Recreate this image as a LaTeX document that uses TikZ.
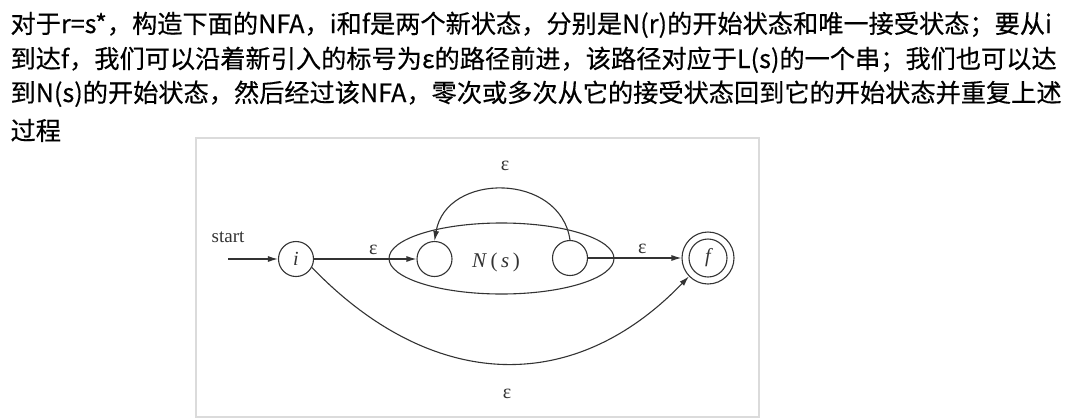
\documentclass[tikz,border=0pt]{standalone}
\usepackage{fontspec}
\setmainfont{Liberation Serif}
\newfontfamily\cjkfont[FakeBold=0.4]{Noto Sans CJK SC}
\usetikzlibrary{arrows.meta,positioning,shapes.geometric}
\tikzset{
  para/.style={anchor=base west,inner sep=0pt,font=\cjkfont\fontsize{25.2}{25.2}\selectfont},
  state/.style={circle,draw,minimum size=35pt,inner sep=0pt,font=\itshape\fontsize{20}{20}\selectfont},
  eps/.style={inner sep=1pt,font=\fontsize{20}{20}\selectfont},
}
\begin{document}
\begin{tikzpicture}[x=1pt,y=-1pt,line width=1.1pt]
      \useasboundingbox (0,0) rectangle (1089,418);
      \node[para] (l1) at (10,33) {对于r=s*，构造下面的NFA，i和f是两个新状态，分别是N(r)的开始状态和唯一接受状态；要从i};
      \node[para] (l2) at (10,68) {到达f，我们可以沿着新引入的标号为ε的路径前进，该路径对应于L(s)的一个串；我们也可以达};
      \node[para] (l3) at (10,102) {到N(s)的开始状态，然后经过该NFA，零次或多次从它的接受状态回到它的开始状态并重复上述};
      \node[para] (l4) at (10,140) {过程};
      \draw[black!14,line width=1.6pt] (196,138) rectangle (759,417);
      \draw[black!80]
        (228,259) coordinate (s0)
        (228,237) node[font=\fontsize{19}{19}\selectfont] (st){start}
        (296,259) node[state] (i){i}
        (501.5,258.5) node[ellipse,draw,minimum width=225pt,minimum height=71pt] (nfa){}
        (434.5,259) node[state] (a){}
        (570,258) node[state] (b){}
        (496,262) node[font=\fontsize{21}{21}\selectfont] (ns){\textit{N}\,(\,\textit{s}\,)}
        (708,258) node[circle,draw,minimum size=52pt,inner sep=0pt,font=\itshape\fontsize{20}{20}\selectfont] (f){f}
        (708,258) node[circle,draw,minimum size=38pt] (fi){}
        (505,166) node[eps] (e3){ε}
        (507,394) node[eps] (e4){ε};
      \begin{scope}[black!80,-{Latex[length=10pt,width=6pt]}]
        \draw (s0) to (i);
        \draw (i) to node[eps,pos=0.58,above=3pt] (e1){ε} (a);
        \draw (b) to node[eps,pos=0.58,above=3pt] (e2){ε} (f);
        \draw (b.north) .. controls (560,172) and (446,172) .. (a.north);
        \draw (i.-28) .. controls (430,390) and (572,398) .. (f.-136);
      \end{scope}
    \end{tikzpicture}
\end{document}
